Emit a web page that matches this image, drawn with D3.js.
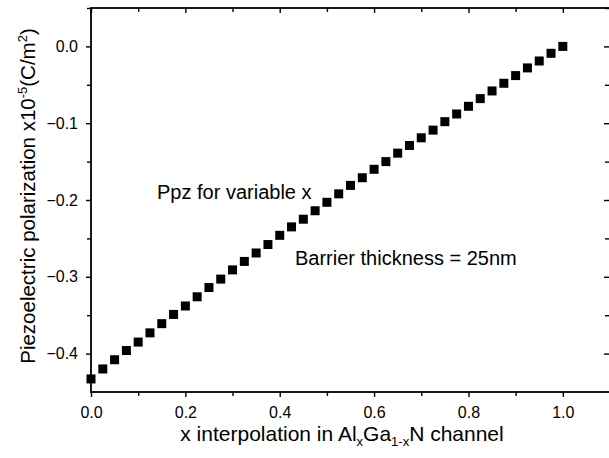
<!DOCTYPE html>
<html>
<head>
<meta charset="utf-8">
<script src="https://cdn.jsdelivr.net/npm/d3@7"></script>
<style>
  body { margin: 0; background: #fff; }
  svg text { font-family: "Liberation Sans", Arial, sans-serif; fill: #000; }
</style>
</head>
<body>
<svg width="609" height="458"></svg>
<script>
// composition x (0 .. 1, step 0.025)
let xValues = [0, 0.025, 0.05, 0.075, 0.1, 0.125, 0.15, 0.175, 0.2, 0.225,
  0.25, 0.275, 0.3, 0.325, 0.35, 0.375, 0.4, 0.425, 0.45, 0.475,
  0.5, 0.525, 0.55, 0.575, 0.6, 0.625, 0.65, 0.675, 0.7, 0.725,
  0.75, 0.775, 0.8, 0.825, 0.85, 0.875, 0.9, 0.925, 0.95, 0.975, 1.0];
// piezoelectric polarization x10^-5 (C/m^2)
let ppzValues = [-0.433, -0.420, -0.408, -0.396, -0.385, -0.373, -0.361, -0.349, -0.338, -0.326,
  -0.314, -0.303, -0.291, -0.280, -0.269, -0.258, -0.246, -0.235, -0.225, -0.214,
  -0.203, -0.192, -0.181, -0.171, -0.160, -0.150, -0.139, -0.129, -0.119, -0.109,
  -0.098, -0.088, -0.078, -0.068, -0.058, -0.048, -0.038, -0.028, -0.019, -0.009, 0.0];
let xTicks = [0, 0.2, 0.4, 0.6, 0.8, 1.0];
let xMinor = [0.1, 0.3, 0.5, 0.7, 0.9];
let yTicks = [0, -0.1, -0.2, -0.3, -0.4];
let yMinor = [0.05, -0.05, -0.15, -0.25, -0.35];

let svg = d3.select("svg");
let marginLeft = 91, marginTop = 8, plotRight = 610, plotBottom = 392;

let scaleX = d3.scaleLinear().domain([0, 1.1]).range([marginLeft, plotRight]);
let scaleY = d3.scaleLinear().domain([-0.45, 0.05]).range([plotBottom, marginTop]);

// рамка
svg.append("rect")
  .attr("x", marginLeft).attr("y", marginTop)
  .attr("width", plotRight - marginLeft).attr("height", plotBottom - marginTop)
  .attr("fill", "none").attr("stroke", "#000").attr("stroke-width", 1.8);

function styleAxis(g) {
  g.select(".domain").remove();
  g.selectAll(".tick line").attr("stroke", "#000").attr("stroke-width", 1.4);
  g.selectAll("text").style("font-size", "16px");
}

// нижняя ось
svg.append("g")
  .attr("transform", `translate(0, ${plotBottom})`)
  .call(d3.axisBottom(scaleX).tickValues(xTicks).tickFormat(d3.format(".1f")).tickSize(5).tickPadding(10))
  .call(styleAxis);
svg.append("g")
  .attr("transform", `translate(0, ${plotBottom})`)
  .call(d3.axisBottom(scaleX).tickValues(xMinor).tickFormat("").tickSize(4))
  .call(styleAxis);
// верхняя ось (тики внутрь)
svg.append("g")
  .attr("transform", `translate(0, ${marginTop})`)
  .call(d3.axisBottom(scaleX).tickValues(xTicks).tickFormat("").tickSize(5))
  .call(styleAxis);
svg.append("g")
  .attr("transform", `translate(0, ${marginTop})`)
  .call(d3.axisBottom(scaleX).tickValues(xMinor).tickFormat("").tickSize(4))
  .call(styleAxis);

// левая ось
svg.append("g")
  .attr("transform", `translate(${marginLeft}, 0)`)
  .call(d3.axisLeft(scaleY).tickValues(yTicks).tickFormat(d3.format(".1f")).tickSize(5).tickPadding(8))
  .call(styleAxis);
svg.append("g")
  .attr("transform", `translate(${marginLeft}, 0)`)
  .call(d3.axisLeft(scaleY).tickValues(yMinor).tickFormat("").tickSize(4))
  .call(styleAxis);
// правая ось (тики внутрь)
svg.append("g")
  .attr("transform", `translate(${plotRight}, 0)`)
  .call(d3.axisLeft(scaleY).tickValues(yTicks).tickFormat("").tickSize(6))
  .call(styleAxis);
svg.append("g")
  .attr("transform", `translate(${plotRight}, 0)`)
  .call(d3.axisLeft(scaleY).tickValues(yMinor).tickFormat("").tickSize(5))
  .call(styleAxis);

// точки
let sq = 9;
svg.selectAll(".dot")
  .data(xValues.map((x, i) => ({ x: x, y: ppzValues[i] })))
  .enter()
  .append("rect")
  .attr("class", "dot")
  .attr("x", d => scaleX(d.x) - sq / 2)
  .attr("y", d => scaleY(d.y) - sq / 2)
  .attr("width", sq).attr("height", sq)
  .attr("fill", "#000");

// подписи осей
let xLabel = svg.append("text")
  .attr("x", 342).attr("y", 441)
  .attr("text-anchor", "middle")
  .style("font-size", "21px");
xLabel.append("tspan").text("x interpolation in Al");
xLabel.append("tspan").attr("dy", 5).style("font-size", "13px").text("x");
xLabel.append("tspan").attr("dy", -5).text("Ga");
xLabel.append("tspan").attr("dy", 5).style("font-size", "13px").text("1-x");
xLabel.append("tspan").attr("dy", -5).text("N channel");

let yLabel = svg.append("text")
  .attr("transform", "translate(35, 196) rotate(-90)")
  .attr("text-anchor", "middle")
  .style("font-size", "20.5px");
yLabel.append("tspan").text("Piezoelectric polarization x10");
yLabel.append("tspan").attr("dy", -8).style("font-size", "13px").text("-5");
yLabel.append("tspan").attr("dy", 8).text("(C/m");
yLabel.append("tspan").attr("dy", -8).style("font-size", "13px").text("2");
yLabel.append("tspan").attr("dy", 8).text(")");

// аннотации
svg.append("text").attr("x", 157).attr("y", 199).style("font-size", "20px").text("Ppz for variable x");
svg.append("text").attr("x", 295).attr("y", 265).style("font-size", "20px").text("Barrier thickness = 25nm");
</script>
</body>
</html>
